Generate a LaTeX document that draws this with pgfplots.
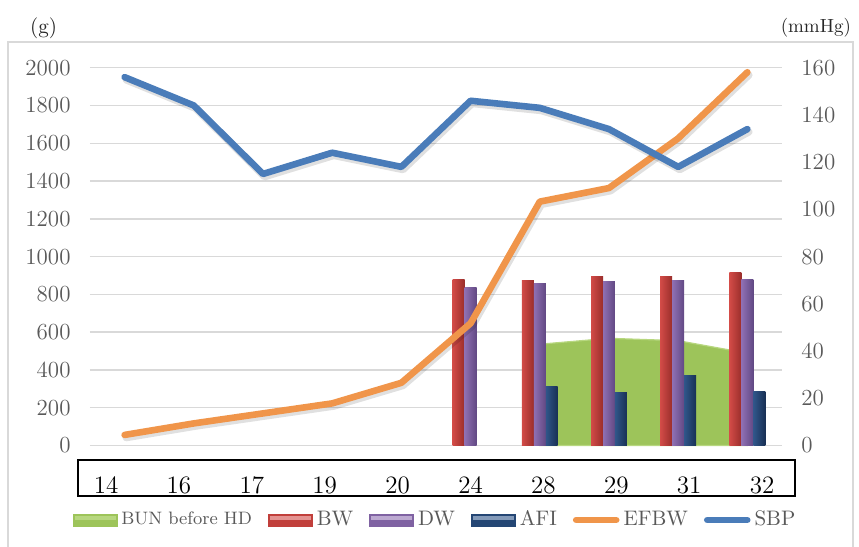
\documentclass[border=0pt]{standalone}
\usepackage{pgfplots}
\pgfplotsset{compat=1.18}
\definecolor{framec}{HTML}{D9D9D9}
\definecolor{gridc}{HTML}{D9D9D9}
\definecolor{tickc}{HTML}{595959}
\definecolor{redL}{HTML}{D24B47}
\definecolor{redM}{HTML}{C13F3B}
\definecolor{redD}{HTML}{9A2E2B}
\definecolor{purL}{HTML}{8F70B3}
\definecolor{purM}{HTML}{7F62A2}
\definecolor{purD}{HTML}{614883}
\definecolor{navL}{HTML}{30568A}
\definecolor{navM}{HTML}{244674}
\definecolor{navD}{HTML}{183054}
\definecolor{bunc}{HTML}{9DC45A}
\definecolor{bunl}{HTML}{B7D77F}
\definecolor{efc}{HTML}{F0954A}
\definecolor{sbpc}{HTML}{4A7CB9}
\pgfplotsset{
  bwbar/.style={ybar, bar width=0.173, bar shift=-0.173, draw=none, left color=redL, middle color=redM, right color=redD, forget plot},
  dwbar/.style={ybar, bar width=0.173, bar shift=0, draw=none, left color=purL, middle color=purM, right color=purD, forget plot},
  afibar/.style={ybar, bar width=0.173, bar shift=0.173, draw=none, left color=navL, middle color=navM, right color=navD, forget plot},
  shadowline/.style={black, opacity=0.12, line width=3.6pt, line join=round, line cap=round, mark=none, forget plot, xshift=0.8pt, yshift=-1.4pt},
}
\begin{document}
\begin{tikzpicture}
\useasboundingbox (0,0) rectangle (429.5pt,-273.5pt);
\draw[framec, line width=0.75pt] (4pt,-274pt) -- (4pt,-21pt) -- (426.5pt,-21pt) -- (426.5pt,-274pt);
\begin{axis}[
  scale only axis, width=346pt, height=188.9pt,
  at={(45pt,-222.75pt)}, anchor=south west,
  xmin=-0.5, xmax=9.5, ymin=0, ymax=2000,
  clip=false,
  axis line style={draw=none},
  tick style={draw=none},
  xtick=\empty,
  ytick={0,200,...,2000},
  ytick pos=left,
  ymajorgrids,
  major grid style={gridc, line width=0.75pt},
  scaled ticks=false,
  /pgf/number format/1000 sep={},
  /pgf/number format/assume math mode=true,
  yticklabel style={anchor=east, xshift=-6.2pt, text=tickc, font=\fontsize{11.5}{13}\selectfont},
  legend style={at={(0.5,-0.197)}, anchor=center, draw=none, fill=none,
    legend columns=6, text=tickc, font=\fontsize{10.5}{12}\selectfont,
    /tikz/every even column/.append style={column sep=6pt},
    inner sep=0pt},
  legend cell align=left,
]
\addlegendimage{legend image code/.code={\fill[bunc] (0pt,-3pt) rectangle (22pt,3pt); \fill[bunl] (1pt,0.5pt) rectangle (21pt,2pt);}}
\addlegendentry{\fontsize{9}{10}\selectfont BUN before HD}
\addlegendimage{legend image code/.code={\fill[redM] (0pt,-3pt) rectangle (22pt,3pt); \fill[redL!60!white] (1pt,0.5pt) rectangle (21pt,2pt);}}
\addlegendentry{BW}
\addlegendimage{legend image code/.code={\fill[purM] (0pt,-3pt) rectangle (22pt,3pt); \fill[purL!60!white] (1pt,0.5pt) rectangle (21pt,2pt);}}
\addlegendentry{DW}
\addlegendimage{legend image code/.code={\fill[navM] (0pt,-3pt) rectangle (22pt,3pt); \fill[navL!60!white] (1pt,0.5pt) rectangle (21pt,2pt);}}
\addlegendentry{AFI}
\addlegendimage{legend image code/.code={\draw[efc, line width=3.3pt, line cap=round] (1.5pt,0pt) -- (21.5pt,0pt);}}
\addlegendentry{EFBW}
\addlegendimage{legend image code/.code={\draw[sbpc, line width=3.3pt, line cap=round] (1.5pt,0pt) -- (21.5pt,0pt);}}
\addlegendentry{SBP}
% BUN before HD (right axis scale, mapped by 12.5)
\addplot[fill=bunc, draw=bunl, line width=0.6pt, y filter/.expression={12.5*y}, forget plot]
  coordinates {(6,42.9) (7,45.4) (8,44.4) (9,39.1)} \closedcycle;
% BW
\addplot[bwbar] coordinates {(5,880)};
\addplot[bwbar] coordinates {(6,876)};
\addplot[bwbar] coordinates {(7,897)};
\addplot[bwbar] coordinates {(8,897)};
\addplot[bwbar] coordinates {(9,915)};
% DW
\addplot[dwbar] coordinates {(5,835)};
\addplot[dwbar] coordinates {(6,859)};
\addplot[dwbar] coordinates {(7,867)};
\addplot[dwbar] coordinates {(8,876)};
\addplot[dwbar] coordinates {(9,880)};
% AFI
\addplot[afibar] coordinates {(6,311)};
\addplot[afibar] coordinates {(7,280)};
\addplot[afibar] coordinates {(8,370)};
\addplot[afibar] coordinates {(9,285)};
% EFBW
\addplot[shadowline]
  coordinates {(0,56) (1,117) (2,170) (3,223) (4,332) (5,647) (6,1291) (7,1363) (8,1626) (9,1976)};
\addplot[efc, line width=3.3pt, line join=round, line cap=round, mark=none, forget plot]
  coordinates {(0,56) (1,117) (2,170) (3,223) (4,332) (5,647) (6,1291) (7,1363) (8,1626) (9,1976)};
% SBP (right axis scale)
\addplot[shadowline, y filter/.expression={12.5*y}]
  coordinates {(0,156) (1,144) (2,115) (3,124) (4,118) (5,146) (6,143) (7,134) (8,118) (9,134)};
\addplot[sbpc, line width=3.3pt, line join=round, line cap=round, mark=none, y filter/.expression={12.5*y}, forget plot]
  coordinates {(0,156) (1,144) (2,115) (3,124) (4,118) (5,146) (6,143) (7,134) (8,118) (9,134)};
\end{axis}
\begin{axis}[
  scale only axis, width=346pt, height=188.9pt,
  at={(45pt,-222.75pt)}, anchor=south west,
  xmin=-0.2195, xmax=9.273, ymin=0, ymax=160,
  axis line style={draw=none},
  tick style={draw=none},
  ytick={0,20,...,160},
  ytick pos=right, yticklabel pos=right,
  xtick={0,...,9},
  xticklabels={14,16,17,19,20,24,28,29,31,32},
  xtick pos=bottom,
  /pgf/number format/assume math mode=true,
  yticklabel style={anchor=west, xshift=6.2pt, text=tickc, font=\fontsize{11.5}{13}\selectfont},
  xticklabel style={anchor=center, yshift=-19.75pt, text=black, font=\fontsize{12.5}{14}\selectfont},
]
\end{axis}
\draw[black, line width=0.8pt] (38.85pt,-230pt) rectangle (397.5pt,-248pt);
\node[font=\fontsize{10.5}{12}\selectfont, text=black!85] at (21.75pt,-14pt) {(g)};
\node[font=\fontsize{9.5}{11}\selectfont, text=black!85, anchor=east] at (429pt,-14pt) {(mmHg)};
\end{tikzpicture}
\end{document}
